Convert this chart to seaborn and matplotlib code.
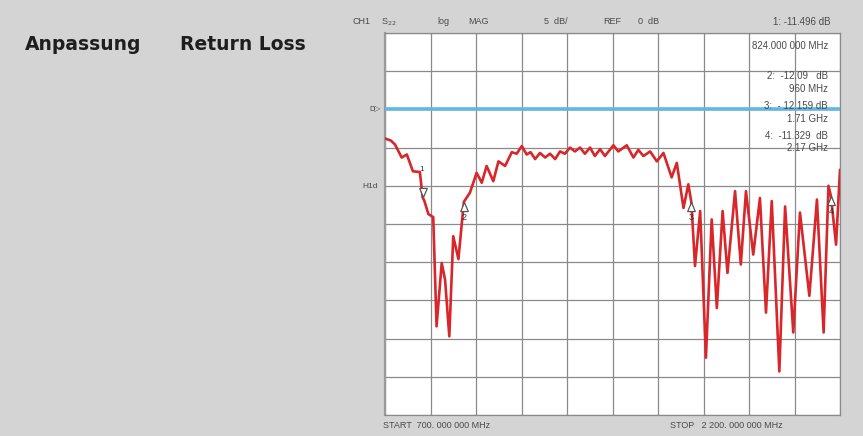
import numpy as np
import pandas as pd
import matplotlib
matplotlib.use('Agg')
import matplotlib.pyplot as plt
import seaborn as sns

# trace (S22, log MAG, 5 dB/div, REF 0 dB)
freq_mhz = [700, 720, 733, 755, 772, 792, 815, 824, 830, 843, 859, 870, 887, 898, 912,
            925, 942, 960, 980, 1002, 1019, 1035, 1057, 1074, 1096, 1118, 1134, 1151,
            1167, 1180, 1195, 1211, 1228, 1244, 1261, 1277, 1293, 1310, 1326, 1343,
            1359, 1376, 1392, 1409, 1425, 1453, 1469, 1497, 1519, 1535, 1552, 1574,
            1596, 1618, 1645, 1662, 1684, 1700, 1710, 1722, 1739, 1758, 1777, 1794,
            1813, 1829, 1854, 1873, 1890, 1914, 1936, 1956, 1975, 2000, 2019, 2046,
            2068, 2099, 2124, 2146, 2162, 2170, 2187, 2200]
s22_db = [-3.8, -4.1, -4.6, -6.3, -5.9, -8.1, -8.2, -11.5, -12.0, -13.7, -14.1, -28.4,
          -20.1, -22.3, -29.7, -16.6, -19.6, -12.1, -10.9, -8.3, -9.6, -7.4, -9.4, -6.8,
          -7.4, -5.6, -5.8, -4.8, -5.9, -5.6, -6.5, -5.7, -6.3, -5.8, -6.5, -5.5, -5.8,
          -5.0, -5.5, -5.0, -5.8, -5.0, -6.1, -5.2, -6.1, -4.7, -5.5, -4.7, -6.3, -5.3,
          -6.1, -5.5, -6.8, -5.7, -8.9, -7.0, -12.9, -9.8, -12.16, -20.5, -13.3, -32.5,
          -14.4, -26.0, -13.3, -21.4, -10.7, -20.3, -10.7, -19.0, -11.6, -26.6, -12.0,
          -34.3, -12.7, -29.2, -13.5, -24.4, -11.8, -29.2, -10.0, -11.33, -17.7, -7.9]

marker_ids = ['1', '2', '3', '4']
marker_freq = [824, 960, 1710, 2170]
marker_db = [-11.496, -12.09, -12.159, -11.329]
marker_text = ['1: -11.496 dB', '2:  -12.09   dB', '3:  - 12.159 dB', '4:  -11.329  dB']
marker_freq_text = ['824.000 000 MHz', '960 MHz', '1.71 GHz', '2.17 GHz']

df = pd.DataFrame({'freq': freq_mhz, 'db': s22_db})

sns.set_style('white')
plt.rcParams['font.family'] = ['Liberation Sans', 'DejaVu Sans']

bg = '#d4d4d4'
txt = '#4a4a4a'
fig = plt.figure(figsize=(8.63, 4.36), dpi=100, facecolor=bg)
ax = fig.add_axes([385 / 863, 1 - 415 / 436, 455 / 863, 382 / 436])
ax.set_facecolor('white')

ax.set_xlim(700, 2200)
ax.set_ylim(-40, 10)
ax.set_xticks(np.arange(700, 2201, 150))
ax.set_yticks(np.arange(-40, 11, 5))
ax.grid(True, color='#8a8a8a', lw=0.9)
ax.tick_params(length=0, labelbottom=False, labelleft=False)
for sp in ax.spines.values():
    sp.set_color('#8a8a8a')
    sp.set_linewidth(0.9)
ax.spines['left'].set_color('#9a9a9a')
ax.spines['left'].set_linewidth(1.6)

# reference line
ax.axhline(0, color='#62b6e2', lw=2.6, zorder=3)

sns.lineplot(data=df, x='freq', y='db', ax=ax, color='#d8262a', lw=1.9, zorder=4,
             sort=False, estimator=None)
ax.set_xlabel('')
ax.set_ylabel('')

# markers: 1 active (points down), others point up; tip sits on the trace
down_tri = [(0, 0), (-0.42, 1), (0.42, 1), (0, 0)]
up_tri = [(0, 0), (-0.42, -1), (0.42, -1), (0, 0)]
for mid, mf, mdb in zip(marker_ids, marker_freq, marker_db):
    if mid == '1':
        ax.scatter([mf], [mdb], marker=down_tri, s=170, facecolor='white',
                   edgecolor='#555555', lw=0.9, zorder=5)
        ax.annotate(mid, (mf, mdb), xytext=(-1, 20), textcoords='offset points',
                    ha='center', va='center', fontsize=6, color='#333333', zorder=6)
    else:
        ax.scatter([mf], [mdb], marker=up_tri, s=170, facecolor='white',
                   edgecolor='#555555', lw=0.9, zorder=5)
        ax.annotate(mid, (mf, mdb), xytext=(0, -11), textcoords='offset points',
                    ha='center', va='center', fontsize=6.5, color='#333333', zorder=6)

# marker readouts inside the screen
ax.text(828 / 863, 1 - 46 / 436, marker_freq_text[0], transform=fig.transFigure,
        ha='right', va='center', fontsize=7, color=txt)
ys = [(76, 89), (106, 119), (136, 148)]
for (ya, yb), t1, t2 in zip(ys, marker_text[1:], marker_freq_text[1:]):
    ax.text(828 / 863, 1 - ya / 436, t1, transform=fig.transFigure,
            ha='right', va='center', fontsize=7, color=txt, zorder=6)
    ax.text(828 / 863, 1 - yb / 436, t2, transform=fig.transFigure,
            ha='right', va='center', fontsize=7, color=txt, zorder=6)

# header row
hdr = [(352, 'CH1'), (437, 'log'), (468, 'MAG'), (544, '5  dB/'), (603, 'REF'), (638, '0  dB')]
for x, t in hdr:
    fig.text(x / 863, 1 - 22 / 436, t, ha='left', va='center', fontsize=6.5, color=txt)
fig.text(381 / 863, 1 - 22 / 436, r'S$_{22}$', ha='left', va='center', fontsize=6.5, color=txt)
fig.text(830 / 863, 1 - 22 / 436, marker_text[0], ha='right', va='center', fontsize=7, color=txt)

# left labels
fig.text(381 / 863, 1 - 110 / 436, 'D▷', ha='right', va='center', fontsize=5.5, color=txt)
fig.text(378 / 863, 1 - 187 / 436, 'H1d', ha='right', va='center', fontsize=6, color=txt)

# bottom row
fig.text(383 / 863, 1 - 425 / 436, 'START  700. 000 000 MHz', ha='left', va='center',
         fontsize=6.5, color=txt)
fig.text(670 / 863, 1 - 425 / 436, 'STOP   2 200. 000 000 MHz', ha='left', va='center',
         fontsize=6.5, color=txt)

# titles
fig.text(25 / 863, 1 - 45 / 436, 'Anpassung', ha='left', va='center', fontsize=13.5,
         fontweight='bold', color='#1e1e1e', family='DejaVu Sans')
fig.text(180 / 863, 1 - 45 / 436, 'Return Loss', ha='left', va='center', fontsize=13.5,
         fontweight='bold', color='#1e1e1e', family='DejaVu Sans')

fig.savefig('out.png', dpi=100, facecolor=bg)
